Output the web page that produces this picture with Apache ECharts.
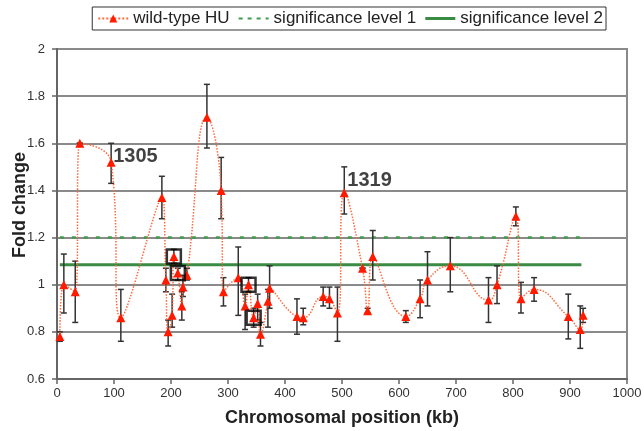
<!DOCTYPE html>
<html><head><meta charset="utf-8">
<script src="https://cdn.jsdelivr.net/npm/echarts@6/dist/echarts.min.js"></script>
<style>html,body{margin:0;padding:0;background:#fff}#c{width:644px;height:431px}</style>
</head><body><div id="c"></div>
<script>
const positions = [5, 12, 32, 40, 95, 112, 184, 191, 195, 202, 205, 212, 219, 221, 228, 263, 288, 292, 318, 330, 336, 345, 352, 357, 370, 373, 421, 432, 467, 478, 492, 504, 536, 545, 554, 612, 637, 650, 690, 757, 772, 805, 814, 837, 897, 918, 923];
const foldChange = [0.78, 1.00, 0.97, 1.60, 1.52, 0.86, 1.37, 1.02, 0.80, 0.87, 1.12, 1.05, 0.91, 0.99, 1.04, 1.71, 1.40, 0.97, 1.03, 0.91, 1.00, 0.86, 0.92, 0.79, 0.93, 0.985, 0.865, 0.86, 0.95, 0.94, 0.88, 1.39, 1.07, 0.89, 1.12, 0.865, 0.94, 1.02, 1.08, 0.935, 1.00, 1.29, 0.94, 0.98, 0.865, 0.81, 0.87];
const errLow  = [0.76, 0.88, 0.84, 1.60, 1.43, 0.76, 1.28, 0.97, 0.74, 0.82, 1.09, 1.02, 0.85, 0.95, 1.02, 1.58, 1.28, 0.91, 0.87, 0.81, 0.97, 0.82, 0.85, 0.74, 0.82, 0.90, 0.79, 0.83, 0.91, 0.90, 0.76, 1.30, 1.07, 0.88, 1.02, 0.84, 0.86, 0.91, 0.97, 0.84, 0.92, 1.25, 0.88, 0.93, 0.77, 0.73, 0.84];
const errHigh = [0.80, 1.13, 1.10, 1.60, 1.60, 0.98, 1.46, 1.07, 0.85, 0.96, 1.15, 1.07, 0.97, 1.04, 1.07, 1.85, 1.54, 1.03, 1.16, 0.96, 1.03, 0.90, 0.96, 0.84, 0.98, 1.08, 0.94, 0.90, 0.99, 0.99, 0.99, 1.50, 1.07, 0.90, 1.23, 0.89, 1.02, 1.14, 1.20, 1.03, 1.08, 1.33, 1.01, 1.03, 0.96, 0.91, 0.90];
const boxedPositions = [205, 212, 336, 345];
const boxedValues = [1.12, 1.05, 1.00, 0.86];
const labelPositions = [95, 504];
const labelValues = [1.52, 1.39];
const labelTexts = ['1305', '1319'];
const sig1Level = 1.2;
const sig2Level = 1.085;
const sigRange = [5, 920];
const xTicks = [0, 100, 200, 300, 400, 500, 600, 700, 800, 900, 1000];
const yTicks = [0.6, 0.8, 1, 1.2, 1.4, 1.6, 1.8, 2];
const yTickLabels = ['0.6', '0.8', '1', '1.2', '1.4', '1.6', '1.8', '2'];
const seriesNames = ['wild-type HU', 'significance level 1', 'significance level 2'];

const chart = echarts.init(document.getElementById('c'), null, {renderer: 'canvas'});
const mainData = positions.map((p, i) => [p, foldChange[i]]);
const errData = positions.map((p, i) => [p, errLow[i], errHigh[i]]);
const boxData = boxedPositions.map((p, i) => [p, boxedValues[i]]);
const labelOffsets = [[-3, -6], [-2, -12]];
const labData = labelPositions.map((p, i) => ({value: [p, labelValues[i]], name: labelTexts[i], label: {offset: labelOffsets[i]}}));
const font = '"Liberation Sans", Arial, sans-serif';
const green1 = '#3f9c4c', green2 = '#3a8c45';

chart.setOption({
  animation: false,
  grid: {left: 57, right: 17, top: 49, bottom: 52, containLabel: false, outerBoundsMode: 'none', show: true, borderColor: '#8a8a8a', borderWidth: 2, backgroundColor: 'transparent'},
  legend: {
    top: 7, right: 38,
    data: [
      {name: seriesNames[0]},
      {name: seriesNames[1], icon: 'path://M0,0h4v2h-4z M9,0h4v2h-4z M18,0h4v2h-4z M27,0h3v2h-3z', itemStyle: {color: green1}},
      {name: seriesNames[2], icon: 'path://M0,0h30v3h-30z', itemStyle: {color: green2}}
    ],
    borderColor: '#333', borderWidth: 1, padding: [3, 3, 3, 5],
    itemWidth: 30, itemHeight: 10, itemGap: 9,
    textStyle: {fontFamily: font, fontSize: 17, color: '#222'}
  },
  xAxis: {
    type: 'value', min: 0, max: 1000, interval: 100,
    name: 'Chromosomal position (kb)', nameLocation: 'middle', nameGap: 30, nameMoveOverlap: false,
    nameTextStyle: {fontFamily: font, fontSize: 18, fontWeight: 'bold', color: '#222'},
    axisLine: {show: true, lineStyle: {color: '#666', width: 2}},
    axisTick: {show: true, length: 5, lineStyle: {color: '#666', width: 1.5}},
    axisLabel: {fontFamily: font, fontSize: 13, color: '#333', margin: 8, formatter: v => String(xTicks[xTicks.indexOf(v)])},
    splitLine: {show: false}
  },
  yAxis: {
    type: 'value', min: 0.6, max: 2, interval: 0.2,
    name: 'Fold change', nameLocation: 'middle', nameGap: 28, nameMoveOverlap: false,
    nameTextStyle: {fontFamily: font, fontSize: 18, fontWeight: 'bold', color: '#222', padding: [0, 0, 0, 18]},
    axisLine: {show: true, lineStyle: {color: '#666', width: 2}},
    axisTick: {show: true, length: 5, lineStyle: {color: '#666', width: 1.5}},
    axisLabel: {fontFamily: font, fontSize: 13, color: '#333', margin: 12, formatter: v => {
      const i = yTicks.findIndex(t => Math.abs(t - v) < 1e-6); return i >= 0 ? yTickLabels[i] : '';
    }},
    splitLine: {show: true, lineStyle: {color: '#8a8a8a', width: 2}}
  },
  series: [
    {
      name: seriesNames[1], type: 'line', data: sigRange.map(x => [x, sig1Level]),
      symbol: 'none', lineStyle: {color: green1, width: 2.5, type: [4, 8]}, itemStyle: {color: green1}, z: 3
    },
    {
      name: seriesNames[2], type: 'line', data: sigRange.map(x => [x, sig2Level]),
      symbol: 'none', lineStyle: {color: green2, width: 3}, itemStyle: {color: green2}, z: 3
    },
    {
      type: 'custom', data: errData, z: 4,
      renderItem: (params, api) => {
        const top = api.coord([api.value(0), api.value(2)]);
        const bot = api.coord([api.value(0), api.value(1)]);
        const c = 3;
        const st = {stroke: '#333', lineWidth: 1.5};
        return {type: 'group', children: [
          {type: 'line', shape: {x1: top[0], y1: top[1], x2: bot[0], y2: bot[1]}, style: st},
          {type: 'line', shape: {x1: top[0]-c, y1: top[1], x2: top[0]+c, y2: top[1]}, style: st},
          {type: 'line', shape: {x1: bot[0]-c, y1: bot[1], x2: bot[0]+c, y2: bot[1]}, style: st}
        ]};
      }
    },
    {
      name: seriesNames[0], type: 'line', data: mainData, smooth: 0.5,
      symbol: 'triangle', symbolSize: 9,
      lineStyle: {color: '#ff6a3d', width: 1.5, type: 'dotted'},
      itemStyle: {color: '#ff1a00'}, z: 5
    },
    {
      type: 'scatter', data: boxData, symbol: 'rect', symbolSize: 14,
      itemStyle: {color: 'transparent', borderColor: '#000', borderWidth: 2.5}, z: 6, silent: true
    },
    {
      type: 'scatter', data: labData, symbolSize: 0, z: 7, silent: true,
      label: {show: true, position: 'right', formatter: p => p.name,
        fontFamily: font, fontSize: 20, fontWeight: 'bold', color: '#111'}
    }
  ]
});
</script></body></html>
